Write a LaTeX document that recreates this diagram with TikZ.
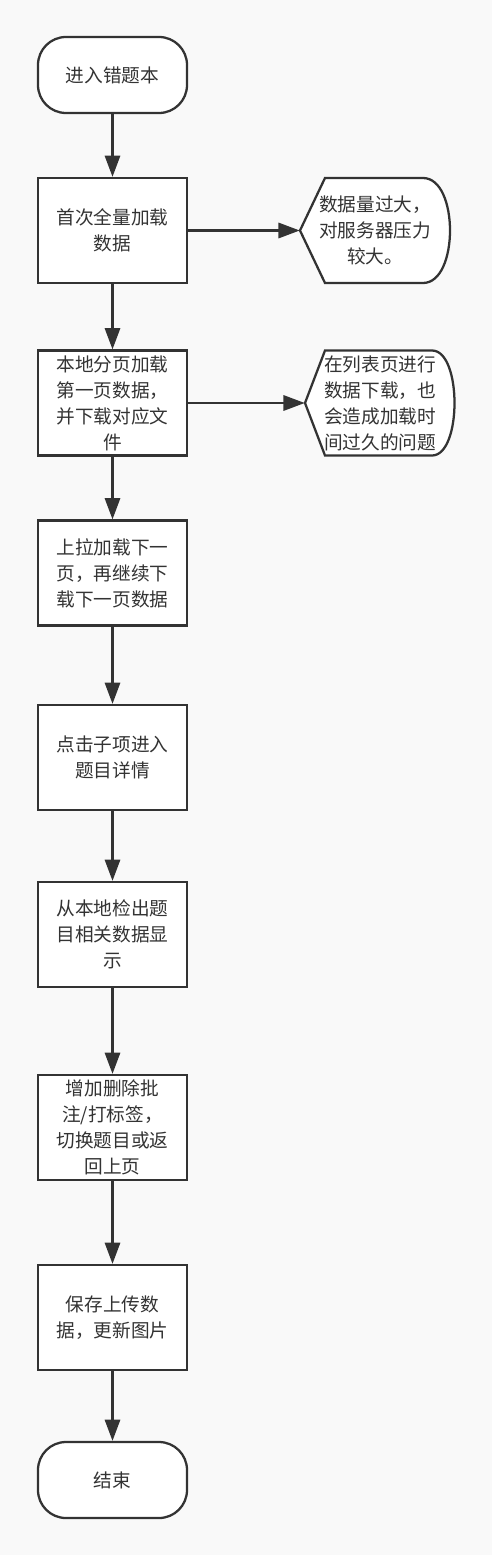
\documentclass[tikz,border=0pt]{standalone}
\usepackage{fontspec}
\newfontfamily\cjk{Noto Sans CJK SC}
\usetikzlibrary{arrows.meta}
\definecolor{linegray}{HTML}{333333}
\definecolor{bggray}{HTML}{F9F9F9}
\tikzset{
	flowbox/.style={draw=linegray, line width=1.7pt, fill=white, minimum width=111.75pt, minimum height=78.75pt, align=center, text=linegray, font=\cjk\fontsize{14}{19.5}\selectfont, inner sep=2pt},
	termbox/.style={flowbox, minimum height=57pt, rounded corners=21pt},
	notetext/.style={minimum width=112.5pt, minimum height=78.75pt, align=center, text=linegray, font=\cjk\fontsize{14}{19.5}\selectfont, inner sep=0pt},
	flowarrow/.style={draw=linegray, line width=1.7pt, -{Triangle[length=16pt, width=11.5pt]}},
}
\begin{document}
\begin{tikzpicture}[x=0.75pt, y=-0.75pt]
		\fill[bggray] (0,0) rectangle (492,1555);
		\node[termbox] (start) at (112.5,75) {进入错题本};
		\node[flowbox] (load) at (112.5,230.5) {首次全量加载\\数据};
		\node[flowbox] (page) at (112.5,403) {本地分页加载\\第一页数据，\\并下载对应文\\件};
		\node[flowbox] (pull) at (112.5,573) {上拉加载下一\\页，再继续下\\载下一页数据};
		\node[flowbox] (click) at (112.5,757.5) {点击子项进入\\题目详情};
		\node[flowbox] (show) at (112.5,934.5) {从本地检出题\\目相关数据显\\示};
		\node[flowbox] (edit) at (112.5,1127.5) {增加删除批\\注/打标签，\\切换题目或返\\回上页};
		\node[flowbox] (save) at (112.5,1317.5) {保存上传数\\据，更新图片};
		\node[termbox] (stop) at (112.5,1480) {结束};
		\draw[draw=linegray, line width=1.7pt, fill=white] (300,230.5) -- (325,178) -- (423,178)
		.. controls (459,178) and (459,283) .. (423,283) -- (325,283) -- cycle;
		\node[notetext] (big) at (375,230.5) {数据量过大，\\对服务器压力\\较大。};
		\draw[draw=linegray, line width=1.7pt, fill=white] (305,403) -- (325,350.5) -- (432,350.5)
		.. controls (462,350.5) and (462,455.5) .. (432,455.5) -- (325,455.5) -- cycle;
		\node[notetext] (slow) at (380,403) {在列表页进行\\数据下载，也\\会造成加载时\\间过久的问题};
		\draw[flowarrow] (start) -- (load);
		\draw[flowarrow] (load) -- (page);
		\draw[flowarrow] (page) -- (pull);
		\draw[flowarrow] (pull) -- (click);
		\draw[flowarrow] (click) -- (show);
		\draw[flowarrow] (show) -- (edit);
		\draw[flowarrow] (edit) -- (save);
		\draw[flowarrow] (save) -- (stop);
		\draw[flowarrow] (load) -- (big.west);
		\draw[flowarrow] (page) -- (slow.west);
\end{tikzpicture}
\end{document}
